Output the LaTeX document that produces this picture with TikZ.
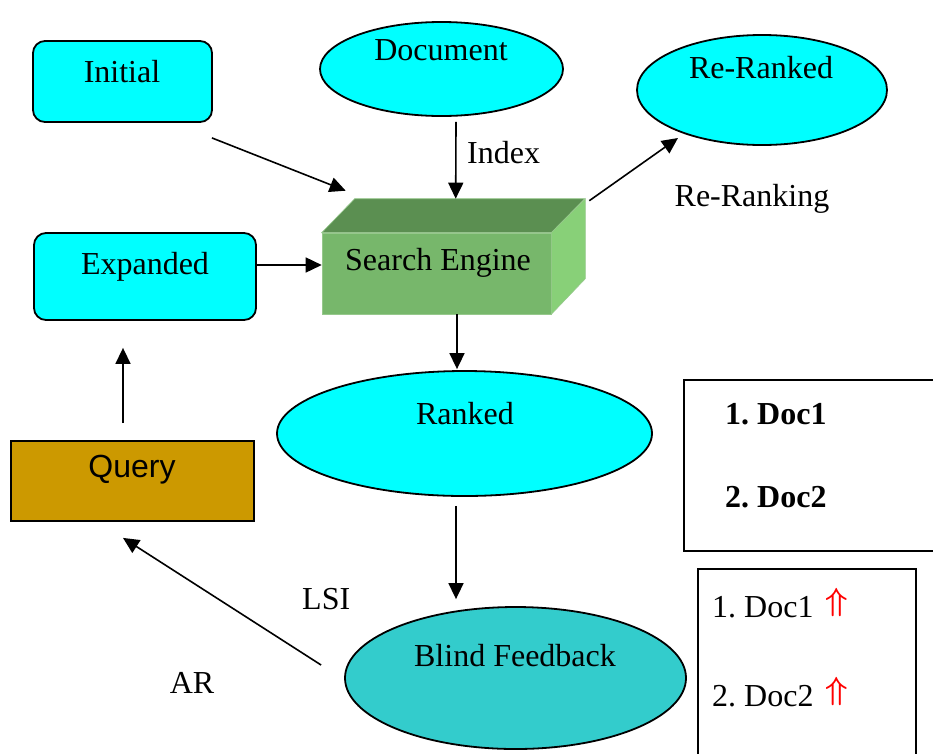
\RequirePackage{fix-cm}
\documentclass[tikz,border=0pt]{standalone}
\usepackage{fontspec}
\setmainfont{Liberation Serif}
\newfontfamily\arialfont{Liberation Sans}
\usetikzlibrary{shapes.geometric,arrows.meta,calc}
\frenchspacing

\definecolor{aqua}{RGB}{0,255,255}
\definecolor{tealfill}{RGB}{51,204,204}
\definecolor{goldfill}{RGB}{204,153,0}
\definecolor{sefront}{RGB}{119,183,107}
\definecolor{setop}{RGB}{91,143,81}
\definecolor{seside}{RGB}{136,208,120}
\definecolor{seedge}{RGB}{150,200,140}

\begin{document}
\begin{tikzpicture}[x=1pt,y=-1pt,
  roundbox/.style={rectangle, rounded corners=12pt, draw=black, line width=1.8pt,
                   fill=aqua, inner sep=0pt},
  oval/.style={ellipse, draw=black, line width=1.8pt, fill=aqua, inner sep=0pt},
  listbox/.style={rectangle, draw=black, line width=1.8pt, fill=white, inner sep=0pt},
  lbl/.style={inner sep=0pt, anchor=base, font=\fontsize{32}{38}\selectfont},
  uparr/.style={inner sep=0pt, anchor=south, text=red,
                font=\fontsize{32}{38}\selectfont\boldmath},
  conn/.style={line width=1.6pt, -{Triangle[length=16pt,width=15pt]}}
]
\useasboundingbox (0,0) rectangle (933,753);

% ---- shapes ----
\node[roundbox, minimum width=179pt, minimum height=81pt] (init) at (122.5,81.5) {};
\node[roundbox, minimum width=222pt, minimum height=87pt] (exp) at (145,276.5) {};
\node[oval, minimum width=243pt, minimum height=94pt] (doc) at (441.5,69) {};
\node[oval, minimum width=250pt, minimum height=110pt] (rer) at (762,90) {};
\node[oval, minimum width=375pt, minimum height=125pt] (rank) at (464.5,433.5) {};
\node[oval, fill=tealfill, minimum width=341pt, minimum height=142pt] (blind) at (515.5,678) {};
\node[rectangle, draw=black, line width=1.8pt, fill=goldfill, inner sep=0pt,
      minimum width=243pt, minimum height=80pt] (query) at (132.5,481) {};
\node[listbox, minimum width=260pt, minimum height=171pt] (list1) at (814,465.5) {};
\node[listbox, minimum width=218pt, minimum height=201pt] (list2) at (807,669.5) {};

% ---- search engine block (front face plus top and side faces) ----
\node[rectangle, fill=sefront, draw=seedge, line width=0.6pt, inner sep=0pt,
      minimum width=229pt, minimum height=81pt] (se) at (436.5,273.5) {};
\fill[setop, draw=seedge, line width=0.6pt]
  (se.north west) -- ++(33,-34) -- ++(230,0) -- (se.north east) -- cycle;
\fill[seside, draw=seedge, line width=0.6pt]
  (se.north east) -- ++(34,-34) -- ++(0,80) -- (se.south east) -- cycle;

% ---- texts ----
\node[lbl] (tInit) at (122,82) {Initial};
\node[lbl] (tDoc) at (441,60.5) {Document};
\node[lbl] (tRer) at (761,78) {Re-Ranked};
\node[lbl, anchor=base west] (tIdx) at (467,163) {Index};
\node[lbl] (tRerk) at (752,206) {Re-Ranking};
\node[lbl, anchor=base west] (tSe) at (345,270) {Search Engine};
\node[lbl] (tExp) at (145,274) {Expanded};
\node[lbl] (tRank) at (465,424) {Ranked};
\node[lbl, font=\fontsize{32}{38}\arialfont] (tQuery) at (132,477) {Query};
\node[lbl, anchor=base west] (tLsi) at (302,609) {LSI};
\node[lbl] (tBlind) at (515,666) {Blind Feedback};
\node[lbl] (tAr) at (192,693) {AR};
\node[lbl, anchor=base west, font=\fontsize{32}{38}\selectfont\bfseries] (d1b) at (725,424) {1. Doc1};
\node[lbl, anchor=base west, font=\fontsize{32}{38}\selectfont\bfseries] (d2b) at (725,507) {2. Doc2};
\node[lbl, anchor=base west] (d1) at (712,617) {1. Doc1};
\node[lbl, anchor=base west] (d2) at (712,706) {2. Doc2};
\node[uparr] (up1) at (837,617) {$\Uparrow$};
\node[uparr] (up2) at (837,706) {$\Uparrow$};

% ---- connectors ----
\draw[conn] ($(init.south east)+(-1,15)$) -- ($(se.north west)+(24,-42)$);
\draw[conn] ($(doc.south)+(14.5,5)$) -- ($(se.north west)+(134,-34)$);
\draw[conn] ($(se.north east)+(38,-32)$) -- ($(rer.center)+(-84,48)$);
\draw[conn] ($(exp.east)+(0,-11.5)$) -- ($(se.west)+(0,-8.5)$);
\draw[conn] ($(se.south)+(20.5,0)$) -- ($(rank.north)+(-7.5,-1)$);
\draw[conn] ($(rank.south)+(-8.5,9)$) -- ($(blind.north)+(-59.5,-7)$);
\draw[conn] ($(query.north)+(-9.5,-17)$) -- ($(exp.south)+(-22,27)$);
\draw[conn] ($(blind.west)+(-23,-13)$) -- ($(query.south)+(-9.5,16)$);
\end{tikzpicture}
\end{document}
